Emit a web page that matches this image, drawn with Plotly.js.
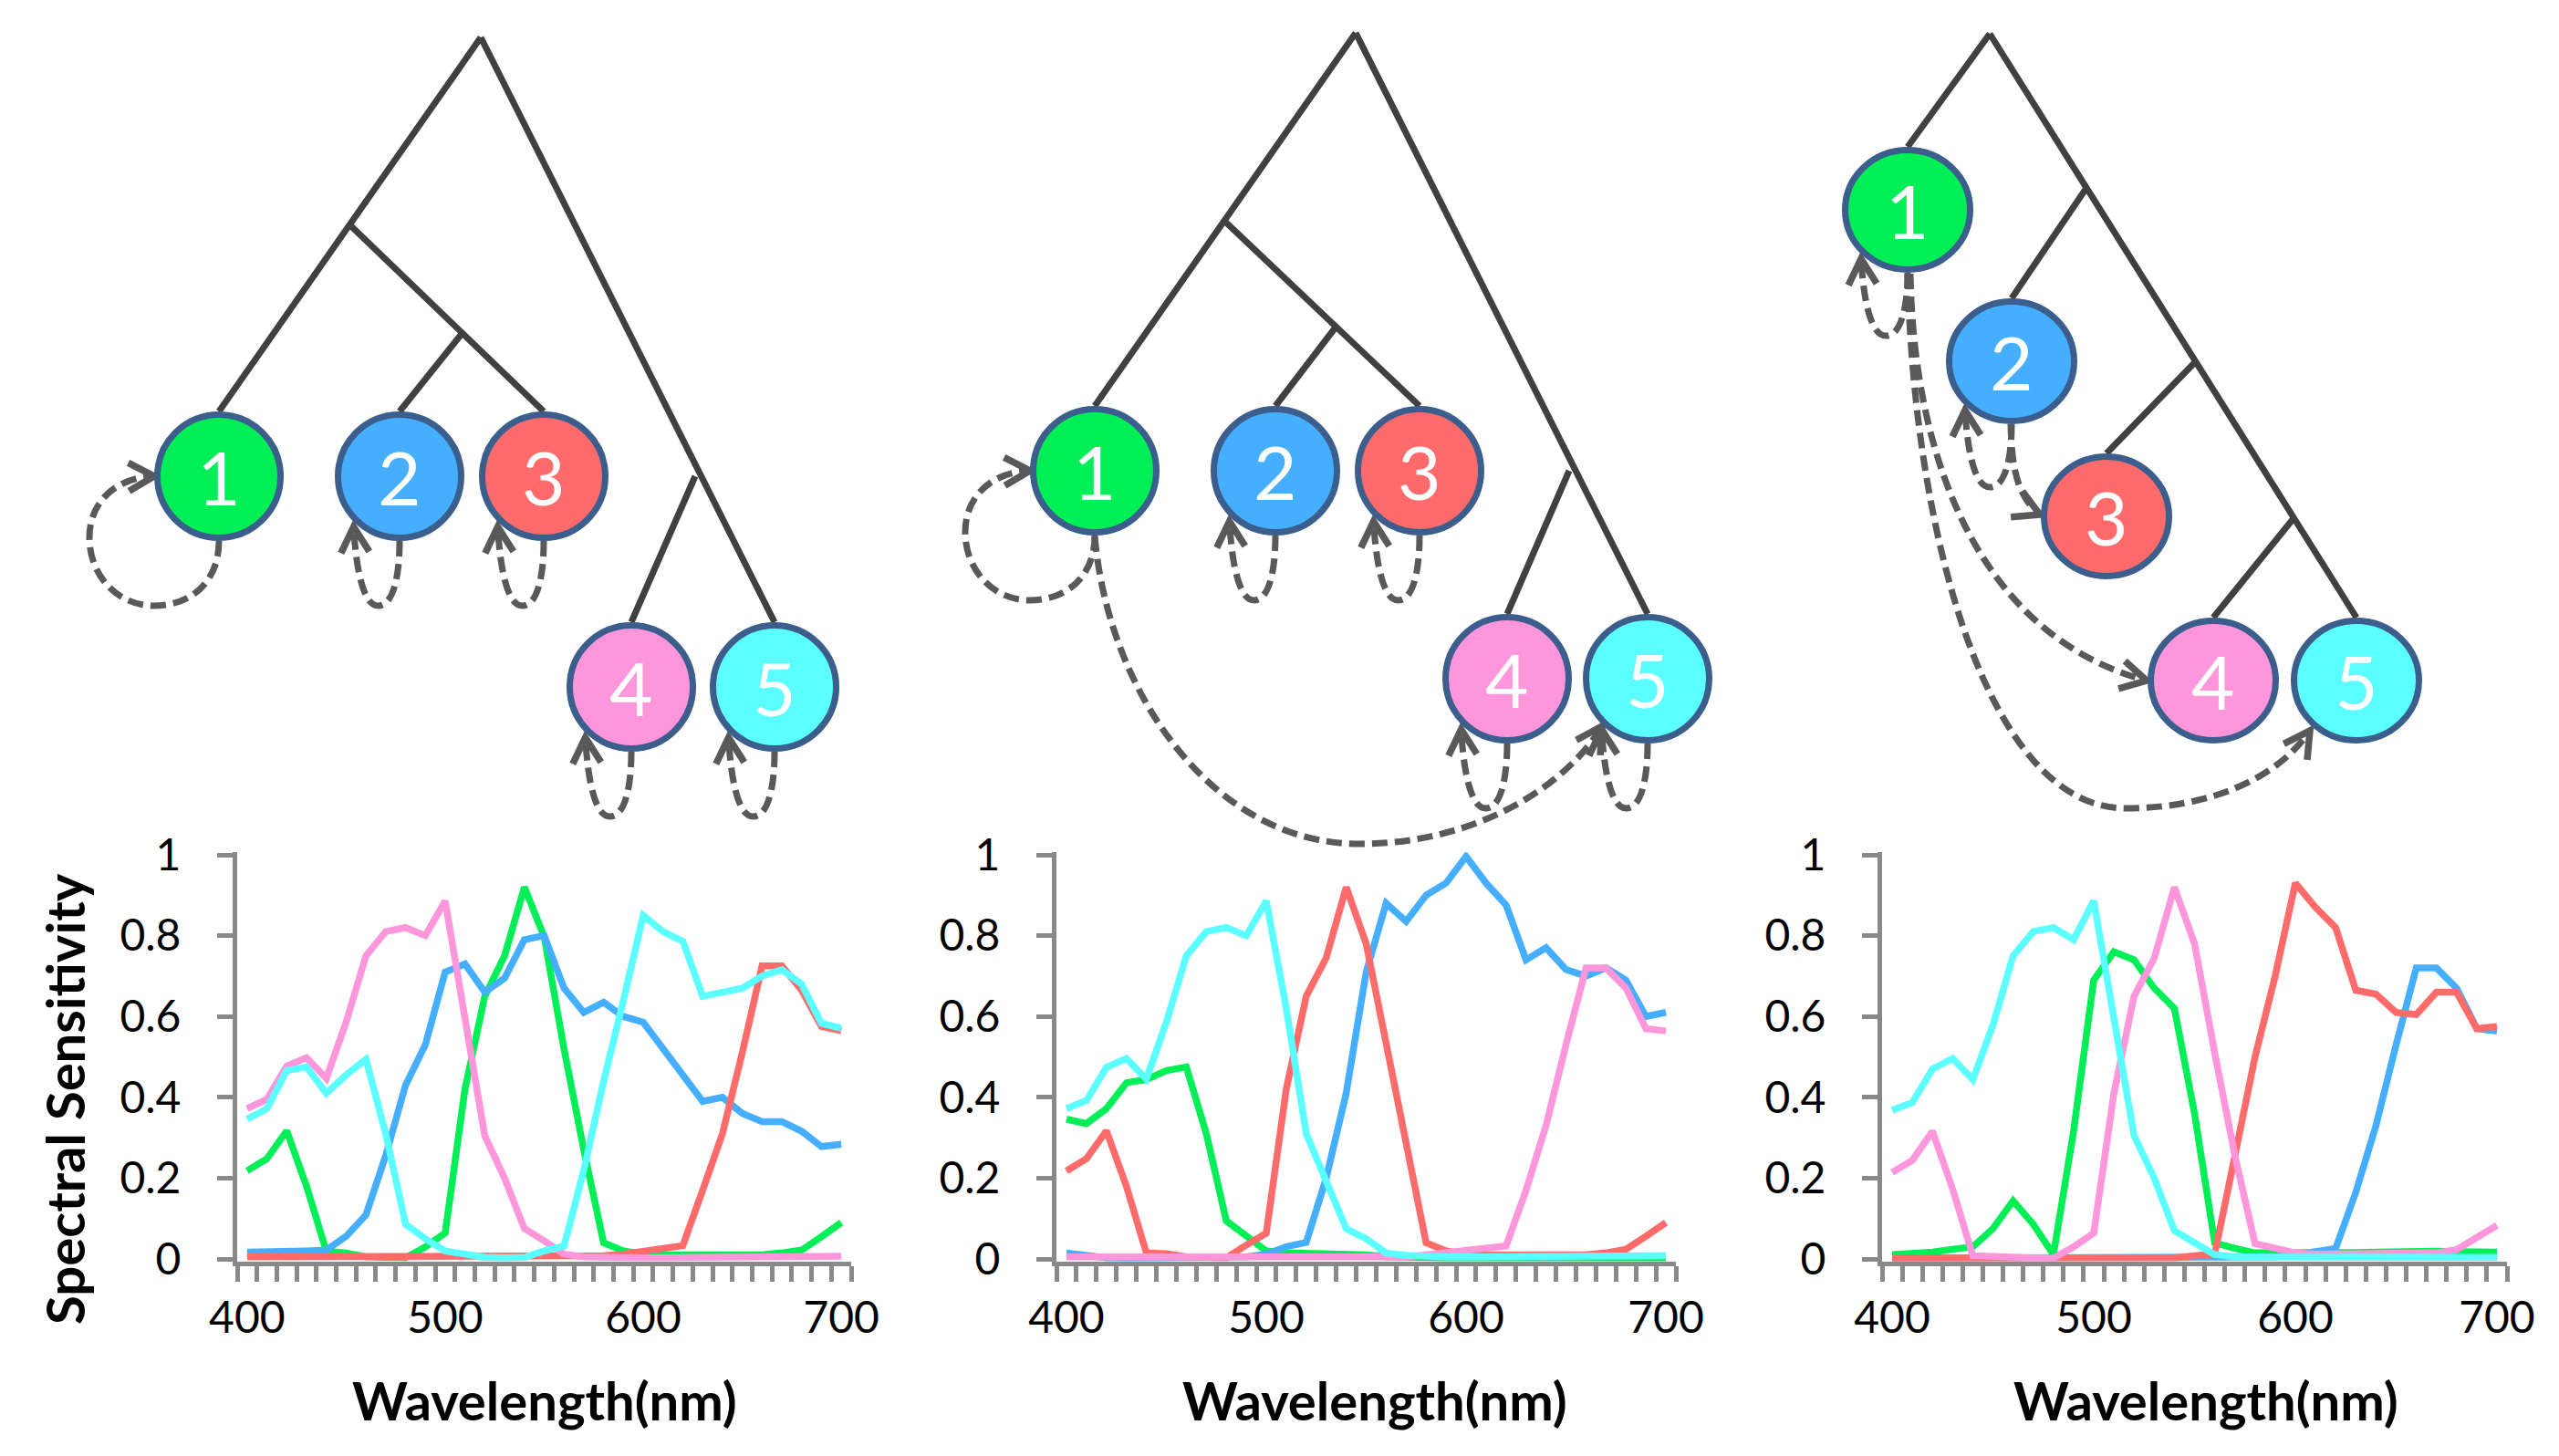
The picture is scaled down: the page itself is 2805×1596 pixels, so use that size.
<!DOCTYPE html>
<html>
<head>
<meta charset="utf-8">
<script src="https://cdn.plot.ly/plotly-3.0.1.min.js"></script>
<style>
html,body{margin:0;padding:0;background:#ffffff;}
#chart{width:2805px;height:1596px;}
</style>
</head>
<body>
<div id="chart"></div>
<script>
// ---------------- DATA ----------------
const wavelength = [400,410,420,430,440,450,460,470,480,490,500,510,520,530,540,550,560,570,580,590,600,610,620,630,640,650,660,670,680,690,700];
const xTickLabels = [400,500,600,700];
const yTickValues = [0,0.2,0.4,0.6,0.8,1];
const receptorNames = ['1','2','3','4','5'];
const receptorColors = ['#00ef57','#45aeff','#ff6b6b','#fd96da','#5cffff'];
const xTitle = 'Wavelength(nm)';
const yTitle = 'Spectral Sensitivity';

// panel 1
const p1Green = [0.218,0.248,0.317,0.18,0.019,0.015,0.005,0.003,0.003,0.03,0.064,0.42,0.65,0.75,0.92,0.797,0.52,0.27,0.04,0.02,0.012,0.01,0.01,0.01,0.01,0.01,0.01,0.015,0.022,0.055,0.09];
const p1Blue  = [0.017,0.017,0.018,0.02,0.022,0.056,0.109,0.256,0.43,0.53,0.71,0.73,0.66,0.695,0.79,0.80,0.67,0.61,0.635,0.60,0.586,0.52,0.46,0.39,0.40,0.36,0.34,0.34,0.316,0.278,0.284];
const p1Red   = [0.005,0.005,0.005,0.005,0.005,0.005,0.005,0.005,0.005,0.005,0.005,0.005,0.005,0.005,0.005,0.005,0.005,0.005,0.008,0.012,0.018,0.024,0.033,0.17,0.31,0.51,0.725,0.725,0.665,0.575,0.565];
const p1Pink  = [0.372,0.395,0.477,0.498,0.447,0.586,0.75,0.81,0.82,0.80,0.886,0.60,0.305,0.20,0.075,0.045,0.012,0.005,0.003,0.003,0.003,0.003,0.003,0.003,0.003,0.003,0.004,0.005,0.005,0.006,0.007];
const p1Cyan  = [0.346,0.372,0.466,0.475,0.41,0.455,0.494,0.31,0.086,0.05,0.02,0.01,0.004,0.003,0.004,0.02,0.032,0.22,0.44,0.64,0.85,0.81,0.786,0.65,0.658,0.67,0.70,0.716,0.68,0.583,0.571];

// panel 2
const p2Green = [0.346,0.335,0.372,0.436,0.444,0.466,0.475,0.31,0.094,0.056,0.02,0.015,0.014,0.014,0.014,0.01,0.005,0.003,0.003,0.003,0.003,0.003,0.003,0.003,0.003,0.003,0.003,0.003,0.003,0.003,0.003];
const p2Blue  = [0.015,0.008,0.003,0.002,0.002,0.002,0.002,0.002,0.002,0.005,0.012,0.03,0.041,0.2,0.41,0.71,0.88,0.835,0.90,0.93,0.996,0.93,0.876,0.74,0.77,0.716,0.70,0.72,0.69,0.60,0.61];
const p2Red   = [0.218,0.248,0.317,0.18,0.015,0.013,0.005,0.003,0.003,0.034,0.064,0.42,0.65,0.745,0.92,0.78,0.53,0.27,0.04,0.02,0.012,0.01,0.01,0.01,0.01,0.01,0.01,0.015,0.024,0.056,0.09];
const p2Pink  = [0.005,0.005,0.005,0.005,0.005,0.005,0.005,0.005,0.005,0.005,0.005,0.005,0.005,0.005,0.005,0.005,0.005,0.005,0.01,0.015,0.02,0.026,0.032,0.17,0.33,0.53,0.72,0.72,0.67,0.57,0.564];
const p2Cyan  = [0.372,0.392,0.474,0.496,0.445,0.586,0.75,0.81,0.82,0.80,0.886,0.62,0.31,0.19,0.075,0.05,0.015,0.009,0.005,0.005,0.005,0.005,0.005,0.005,0.005,0.005,0.005,0.006,0.006,0.007,0.008];

// panel 3
const p3Green = [0.011,0.012,0.017,0.024,0.03,0.075,0.144,0.086,0.011,0.316,0.69,0.76,0.74,0.67,0.62,0.36,0.04,0.026,0.015,0.015,0.015,0.012,0.015,0.016,0.017,0.019,0.019,0.019,0.018,0.017,0.017];
const p3Blue  = [0.002,0.002,0.002,0.002,0.002,0.002,0.002,0.002,0.002,0.002,0.002,0.002,0.002,0.002,0.002,0.002,0.002,0.003,0.004,0.005,0.01,0.02,0.026,0.165,0.33,0.53,0.72,0.72,0.67,0.57,0.564];
const p3Red   = [0.002,0.002,0.002,0.002,0.002,0.002,0.002,0.002,0.002,0.002,0.002,0.002,0.002,0.002,0.003,0.008,0.012,0.255,0.50,0.70,0.93,0.87,0.82,0.665,0.655,0.61,0.605,0.66,0.66,0.57,0.575];
const p3Pink  = [0.214,0.244,0.316,0.173,0.008,0.005,0.004,0.003,0.002,0.03,0.064,0.41,0.65,0.744,0.92,0.78,0.51,0.256,0.038,0.026,0.015,0.012,0.012,0.012,0.012,0.013,0.015,0.015,0.023,0.053,0.083];
const p3Cyan  = [0.368,0.387,0.47,0.496,0.444,0.579,0.75,0.81,0.82,0.79,0.886,0.60,0.305,0.20,0.07,0.04,0.011,0.005,0.005,0.004,0.004,0.004,0.004,0.004,0.004,0.004,0.004,0.004,0.004,0.004,0.004];

const panels = [
  [p1Green,p1Blue,p1Red,p1Pink,p1Cyan],
  [p2Green,p2Blue,p2Red,p2Pink,p2Cyan],
  [p3Green,p3Blue,p3Red,p3Pink,p3Cyan]
];

// ---------------- TREE DIAGRAM GEOMETRY (pixels) ----------------
const treeNodeX = [[240,438,596,692,849],[1200,1398,1556,1652,1806],[2091,2205,2309,2426,2583]];
const treeNodeY = [[522,522,522,753,753],[516,516,516,744,744],[230,396,566,746,746]];
const treeNodeRX = [71,71,72];
const treeNodeRY = [71,71,69];
const treeEdges = [
  [[527,41,240,451],[385,248,596,451],[506,366,438,451],[527,41,849,682],[762,522,692,682]],
  [[1486,36,1200,445],[1343,243,1556,445],[1463,360,1398,445],[1486,36,1806,673],[1720,516,1652,673]],
  [[2181,37,2091,161],[2181,37,2583,677],[2287,206,2205,327],[2407,396,2309,497],[2515,567,2426,677]]
];
// self loops: [tree, node, style]
const selfLoops = [[0,0,'wide'],[0,1,'narrow'],[0,2,'narrow'],[0,3,'narrow'],[0,4,'narrow'],
                   [1,0,'wide'],[1,1,'narrow'],[1,2,'narrow'],[1,3,'narrow'],[1,4,'narrow'],
                   [2,0,'narrow'],[2,1,'narrow']];
// transfer arcs: svg path + arrow tip + direction
const arcs = [
  {path:'M 1200 588 C 1215 760, 1330 925, 1490 925 C 1620 925, 1718 860, 1756 796', tip:[1756,796], dir:[40,-63]},
  {path:'M 2094 300 C 2098 520, 2180 700, 2353 746', tip:[2353,746], dir:[174,40]},
  {path:'M 2091 300 C 2098 590, 2180 886, 2330 886 C 2420 886, 2495 855, 2532 801', tip:[2532,801], dir:[37,-54]},
  {path:'M 2204 465 C 2205 515, 2212 545, 2236 564', tip:[2236,564], dir:[1,0.45]}
];

// ---------------- BUILD ----------------
const W = 2805, H = 1596;
const panelPx = [[260,933],[1158,1837],[2063,2748]];
const titleCenterX = [597,1507,2418];
const yPxTop = 937, yPxZero = 1380;
const yPad = 0.006;
const pxPerUnit = yPxZero - yPxTop;
const yDom = [(H - (yPxZero + yPad*pxPerUnit))/H, (H - (yPxTop - yPad*pxPerUnit))/H];
const minorTicks = wavelength.map(w => w - 5).concat([wavelength[wavelength.length-1] + 5]);

const axisGray = '#898989';
const fontFam = 'Lato, "Open Sans", sans-serif';
const tickFont = {family:fontFam, size:48, color:'#000000'};

const traces = [];
panels.forEach((series, p) => {
  const xa = p === 0 ? 'x' : 'x' + (p+1);
  const ya = p === 0 ? 'y' : 'y' + (p+1);
  series.forEach((vals, s) => {
    traces.push({
      x: wavelength, y: vals, xaxis: xa, yaxis: ya,
      type:'scatter', mode:'lines', name: receptorNames[s],
      line:{color: receptorColors[s], width:7.5},
      hoverinfo:'skip', showlegend:false
    });
  });
});

// tree edges as a line trace on the pixel overlay axes
const ex = [], ey = [];
treeEdges.forEach(t => t.forEach(e => { ex.push(e[0], e[2], null); ey.push(e[1], e[3], null); }));
traces.push({x:ex, y:ey, xaxis:'x4', yaxis:'y4', type:'scatter', mode:'lines',
  line:{color:'#404040', width:7}, hoverinfo:'skip', showlegend:false});

const layout = {
  width: W, height: H,
  margin:{l:0,r:0,t:0,b:0,pad:0},
  paper_bgcolor:'#ffffff', plot_bgcolor:'rgba(0,0,0,0)',
  font:{family:fontFam, color:'#000000'},
  showlegend:false,
  shapes:[], annotations:[]
};

panelPx.forEach((px, p) => {
  const sx = p === 0 ? '' : String(p+1);
  layout['xaxis' + sx] = {
    domain:[px[0]/W, px[1]/W], range:[395,705], anchor:'y' + sx,
    tickmode:'array', tickvals:xTickLabels, ticktext:xTickLabels.map(String),
    ticks:'', showline:true, linecolor:axisGray, linewidth:5,
    showgrid:false, zeroline:false, tickfont:tickFont, ticklabelstandoff:16,
    minor:{tickmode:'array', tickvals:minorTicks, ticks:'outside', ticklen:17, tickwidth:5, tickcolor:axisGray, showgrid:false},
    layer:'below traces', fixedrange:true
  };
  layout['yaxis' + sx] = {
    domain:yDom, range:[-yPad, 1+yPad], anchor:'x' + sx,
    tickmode:'array', tickvals:yTickValues, ticktext:yTickValues.map(String),
    ticks:'outside', ticklen:17, tickwidth:5, tickcolor:axisGray,
    showline:true, linecolor:axisGray, linewidth:5,
    showgrid:false, zeroline:false, tickfont:tickFont, ticklabelstandoff:30,
    layer:'below traces', fixedrange:true
  };
  layout.annotations.push({
    text:'<b>' + xTitle + '</b>', xref:'paper', yref:'paper',
    x: titleCenterX[p]/W, y:(H-1534)/H, xanchor:'center', yanchor:'middle',
    showarrow:false, font:{family:fontFam, size:58, color:'#000000'}
  });
});
layout.annotations.push({
  text:'<b>' + yTitle + '</b>', xref:'paper', yref:'paper',
  x:70/W, y:(H-1205)/H, xanchor:'center', yanchor:'middle', textangle:-90,
  showarrow:false, font:{family:fontFam, size:58, color:'#000000'}
});

layout.xaxis4 = {domain:[0,1], range:[0,W], anchor:'y4', visible:false, fixedrange:true};
layout.yaxis4 = {domain:[0,1], range:[H,0], anchor:'x4', visible:false, fixedrange:true};

const dashGray = '#595959';
function f(v){ return v.toFixed(1); }
function arrowHead(tip, dir, len, ang){
  const n = Math.hypot(dir[0], dir[1]);
  const bx = -dir[0]/n, by = -dir[1]/n;
  const a = ang*Math.PI/180;
  const c = Math.cos(a), s = Math.sin(a);
  const a1 = [tip[0] + len*(bx*c - by*s), tip[1] + len*(bx*s + by*c)];
  const a2 = [tip[0] + len*(bx*c + by*s), tip[1] + len*(-bx*s + by*c)];
  return 'M ' + f(a1[0]) + ' ' + f(a1[1]) + ' L ' + f(tip[0]) + ' ' + f(tip[1]) + ' L ' + f(a2[0]) + ' ' + f(a2[1]);
}
function dashed(path){
  return {type:'path', xref:'x4', yref:'y4', path:path, layer:'above',
    line:{color:dashGray, width:7, dash:'17px,8px'}};
}
function solid(path){
  return {type:'path', xref:'x4', yref:'y4', path:path, layer:'above',
    line:{color:dashGray, width:7.5}};
}

selfLoops.forEach(([t, i, style]) => {
  const cx = treeNodeX[t][i], cy = treeNodeY[t][i];
  const rx = treeNodeRX[t], ry = treeNodeRY[t];
  const P = (u, v) => f(cx + u*rx) + ' ' + f(cy + v*ry);
  let path, tip, dir;
  if (style === 'narrow') {
    path = 'M ' + P(0,1.0) + ' C ' + P(0,1.55) + ', ' + P(-0.10,2.0) + ', ' + P(-0.33,2.0) +
           ' C ' + P(-0.56,2.0) + ', ' + P(-0.67,1.45) + ', ' + P(-0.71,0.78);
    tip = [cx - 0.71*rx, cy + 0.78*ry]; dir = [-0.04, -0.65];
  } else {
    path = 'M ' + P(0,1.0) + ' C ' + P(0,1.65) + ', ' + P(-0.45,2.0) + ', ' + P(-1.0,2.0) +
           ' C ' + P(-1.6,2.0) + ', ' + P(-2.0,1.5) + ', ' + P(-2.0,0.95) +
           ' C ' + P(-2.0,0.4) + ', ' + P(-1.6,0.02) + ', ' + P(-1.0,0.0);
    tip = [cx - 1.0*rx, cy]; dir = [1, -0.03];
  }
  layout.shapes.push(dashed(path));
  layout.shapes.push(solid(arrowHead(tip, dir, 32, 29)));
});
arcs.forEach(a => {
  layout.shapes.push(dashed(a.path));
  layout.shapes.push(solid(arrowHead(a.tip, a.dir, 32, 29)));
});

// nodes
treeNodeX.forEach((xs, t) => {
  xs.forEach((cx, i) => {
    const cy = treeNodeY[t][i];
    const rx = treeNodeRX[t] - 3.5, ry = treeNodeRY[t] - 3.5;
    layout.shapes.push({type:'circle', xref:'x4', yref:'y4', layer:'above',
      x0:cx-rx, x1:cx+rx, y0:cy-ry, y1:cy+ry,
      fillcolor:receptorColors[i], line:{color:'#3b5e8c', width:7}});
    layout.annotations.push({text:receptorNames[i], xref:'x4', yref:'y4', x:cx, y:cy,
      xanchor:'center', yanchor:'middle', showarrow:false,
      font:{family:fontFam, size:82, color:'#ffffff'}});
  });
});

Plotly.newPlot('chart', traces, layout, {staticPlot:true, displayModeBar:false});
</script>
</body>
</html>
